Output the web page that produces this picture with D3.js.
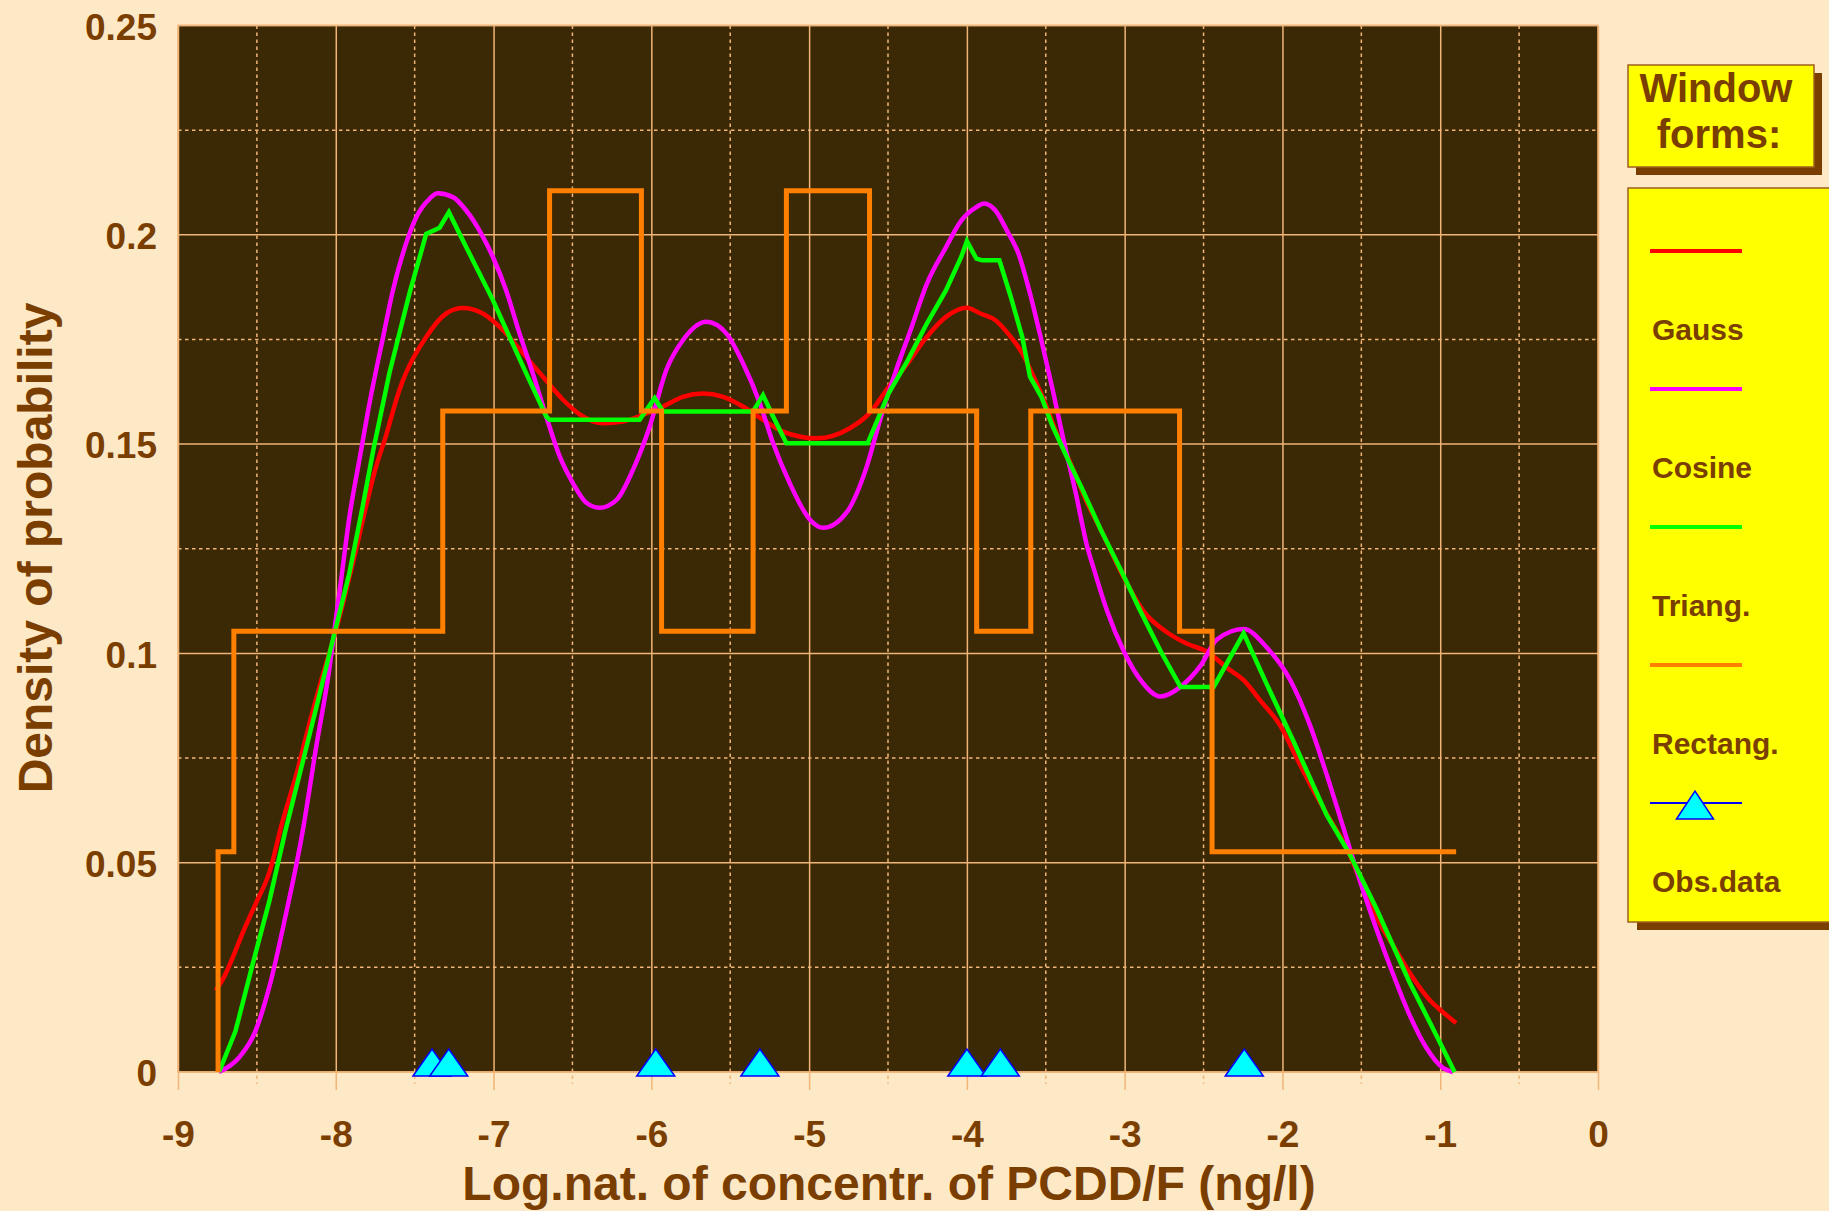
<!DOCTYPE html>
<html>
<head>
<meta charset="utf-8">
<script src="https://cdn.jsdelivr.net/npm/d3@7"></script>
<style>
  body { margin: 0; background: #fee9c7; }
  svg { display: block; }
  text { font-family: "Liberation Sans", Arial, sans-serif; fill: #7a3e00; }
</style>
</head>
<body>
<svg id="plot"></svg>
<script>
// observations (log conc.)
const obsX = [-7.39, -7.284, -5.972, -5.312, -4.0, -3.788, -2.242];

// kernel density curves: [x, density]
const gaussPts = [[-8.76,0.0195],[-8.72,0.0219],[-8.57,0.035],[-8.51,0.040],[-8.42,0.0478],[-8.34,0.0595],[-8.25,0.0711],[-8.17,0.0828],[-8.085,0.0945],[-8.0,0.1053],[-7.915,0.118],[-7.87,0.125],[-7.83,0.1316],[-7.744,0.1447],[-7.69,0.151],[-7.596,0.163],[-7.427,0.1756],[-7.30,0.1812],[-7.195,0.1825],[-7.068,0.1812],[-6.94,0.1772],[-6.814,0.1717],[-6.687,0.1661],[-6.56,0.1606],[-6.433,0.1566],[-6.307,0.155],[-6.18,0.1554],[-6.053,0.157],[-5.926,0.159],[-5.80,0.1613],[-5.672,0.1621],[-5.545,0.1613],[-5.419,0.159],[-5.292,0.1558],[-5.165,0.153],[-4.953,0.1514],[-4.742,0.1538],[-4.617,0.1574],[-4.496,0.1637],[-4.375,0.1693],[-4.254,0.1756],[-4.133,0.1804],[-4.0,0.1826],[-3.915,0.1812],[-3.819,0.1796],[-3.722,0.1756],[-3.649,0.1717],[-3.577,0.1661],[-3.504,0.1598],[-3.431,0.1526],[-3.335,0.1447],[-3.238,0.136],[-3.152,0.1296],[-3.004,0.118],[-2.878,0.110],[-2.73,0.105],[-2.604,0.1023],[-2.478,0.1004],[-2.35,0.0965],[-2.246,0.0936],[-2.14,0.0887],[-2.015,0.0828],[-1.91,0.075],[-1.804,0.0673],[-1.70,0.0604],[-1.594,0.0536],[-1.488,0.044],[-1.383,0.0355],[-1.278,0.029],[-1.173,0.0225],[-1.067,0.0172],[-0.983,0.0143],[-0.899,0.0117]];

const cosinePts = [[-8.74,0],[-8.614,0.0034],[-8.51,0.0097],[-8.42,0.0205],[-8.32,0.037],[-8.21,0.0575],[-8.127,0.077],[-8.04,0.0965],[-8.0,0.108],[-7.958,0.12],[-7.913,0.1328],[-7.85,0.1463],[-7.786,0.1598],[-7.70,0.1756],[-7.638,0.1867],[-7.575,0.1955],[-7.49,0.2042],[-7.406,0.2086],[-7.353,0.2099],[-7.258,0.209],[-7.173,0.2058],[-7.089,0.201],[-7.004,0.1947],[-6.92,0.1867],[-6.835,0.1764],[-6.751,0.1669],[-6.666,0.1566],[-6.58,0.147],[-6.497,0.1407],[-6.412,0.136],[-6.328,0.1348],[-6.22,0.1367],[-6.116,0.1439],[-6.01,0.1542],[-5.905,0.1677],[-5.80,0.1748],[-5.651,0.1792],[-5.524,0.1764],[-5.419,0.1693],[-5.313,0.1598],[-5.228,0.1502],[-5.123,0.1407],[-4.996,0.132],[-4.91,0.130],[-4.76,0.1338],[-4.641,0.1439],[-4.544,0.1566],[-4.448,0.1677],[-4.35,0.178],[-4.254,0.1883],[-4.133,0.197],[-4.036,0.2034],[-3.94,0.2066],[-3.891,0.2075],[-3.819,0.2058],[-3.746,0.201],[-3.673,0.1955],[-3.60,0.186],[-3.528,0.1748],[-3.456,0.1629],[-3.383,0.1502],[-3.31,0.1383],[-3.238,0.1256],[-3.194,0.120],[-3.11,0.110],[-3.004,0.1004],[-2.899,0.0936],[-2.773,0.0897],[-2.646,0.092],[-2.52,0.097],[-2.415,0.1033],[-2.246,0.1058],[-2.099,0.1014],[-1.95,0.0936],[-1.825,0.0828],[-1.72,0.0711],[-1.615,0.0585],[-1.51,0.0458],[-1.404,0.0341],[-1.299,0.0234],[-1.194,0.0136],[-1.088,0.0058],[-0.983,0.001],[-0.92,0]];

const triangPts = [[-8.74,0],[-8.636,0.0097],[-8.53,0.0253],[-8.42,0.041],[-8.32,0.0575],[-8.21,0.074],[-8.106,0.0897],[-8.02,0.103],[-7.915,0.119],[-7.83,0.135],[-7.76,0.149],[-7.66,0.167],[-7.533,0.186],[-7.427,0.2002],[-7.342,0.2017],[-7.283,0.2054],[-7.195,0.1987],[-7.11,0.1923],[-7.004,0.1844],[-6.899,0.1756],[-6.793,0.1669],[-6.666,0.1566],[-6.645,0.1558],[-6.074,0.1558],[-5.979,0.161],[-5.926,0.1578],[-5.355,0.1578],[-5.292,0.1617],[-5.228,0.1566],[-5.144,0.1502],[-4.629,0.1502],[-4.496,0.1621],[-4.375,0.17],[-4.254,0.1788],[-4.133,0.1867],[-4.036,0.1947],[-4.0,0.1985],[-3.94,0.1943],[-3.903,0.1939],[-3.794,0.1939],[-3.722,0.1852],[-3.649,0.1756],[-3.60,0.1661],[-3.528,0.1613],[-3.456,0.1542],[-3.359,0.1463],[-3.278,0.140],[-3.152,0.1296],[-3.025,0.12],[-2.899,0.110],[-2.77,0.1004],[-2.646,0.092],[-2.436,0.092],[-2.246,0.1048],[-2.099,0.0926],[-1.93,0.079],[-1.72,0.0614],[-1.573,0.052],[-1.404,0.039],[-1.194,0.0214],[-1.025,0.0088],[-0.909,0]];

// rectangular window: step breakpoints
const rectX = [-8.746, -8.746, -8.646, -7.322, -6.645, -6.063, -5.935, -5.355, -5.144, -4.617, -3.938, -3.595, -2.652, -2.446, -0.899];
const rectY = [0, 0.0526, 0.1053, 0.1579, 0.2105, 0.1579, 0.1053, 0.1579, 0.2105, 0.1579, 0.1053, 0.1579, 0.1053, 0.0526, 0.0526];

// axis ticks
const xTicks = [-9, -8, -7, -6, -5, -4, -3, -2, -1, 0];
const xMinor = [-8.5, -7.5, -6.5, -5.5, -4.5, -3.5, -2.5, -1.5, -0.5];
const yTicks = [0, 0.05, 0.1, 0.15, 0.2, 0.25];
const yMinor = [0.025, 0.075, 0.125, 0.175, 0.225];

const legendLabels = ["Gauss", "Cosine", "Triang.", "Rectang.", "Obs.data"];
const legendColors = ["#ff0000", "#ff00ff", "#00ff00", "#ff8000"];

// init setting
const W = 1829, H = 1211;
const svg = d3.select("#plot").attr("width", W).attr("height", H);
svg.append("rect").attr("width", W).attr("height", H).attr("fill", "#fee9c7");

const pL = 178, pR = 1598, pT = 25.5, pB = 1072;
const x = d3.scaleLinear().domain([-9, 0]).range([pL, pR]);
const y = d3.scaleLinear().domain([0, 0.25]).range([pB, pT]);

const gridColor = "#f0b577";

// plot background
svg.append("rect")
    .attr("x", pL).attr("y", pT)
    .attr("width", pR - pL).attr("height", pB - pT)
    .attr("fill", "#3b2805");

// grid: minor dashed, major solid (x lines run a bit below the plot as ticks)
const grid = svg.append("g");
grid.selectAll(".xminor").data(xMinor).enter().append("line")
    .attr("x1", d => x(d)).attr("x2", d => x(d))
    .attr("y1", pT).attr("y2", pB + 12)
    .attr("stroke", gridColor).attr("stroke-width", 1.5)
    .attr("stroke-dasharray", "3.5,3.5");
grid.selectAll(".yminor").data(yMinor).enter().append("line")
    .attr("x1", pL).attr("x2", pR)
    .attr("y1", d => y(d)).attr("y2", d => y(d))
    .attr("stroke", gridColor).attr("stroke-width", 1.5)
    .attr("stroke-dasharray", "3.5,3.5");
grid.selectAll(".ymajor").data(yTicks).enter().append("line")
    .attr("x1", pL).attr("x2", pR)
    .attr("y1", d => y(d)).attr("y2", d => y(d))
    .attr("stroke", gridColor).attr("stroke-width", 1.5);

// x axis (major grid lines + labels)
const xAxis = d3.axisBottom(x)
    .tickValues(xTicks)
    .tickSize(-(pB - pT))
    .tickFormat(d => String(d));
const gx = svg.append("g")
    .attr("transform", `translate(0, ${pB + 18})`)
    .call(xAxis);
gx.select(".domain").remove();
gx.selectAll(".tick line")
    .attr("y2", -(pB - pT) - 18)
    .attr("stroke", gridColor).attr("stroke-width", 1.5);
gx.selectAll(".tick text")
    .attr("y", 57).attr("dy", 0)
    .style("font-size", "37px").style("font-weight", "bold")
    .attr("fill", "#7a3e00");

// y axis labels
const yAxis = d3.axisLeft(y)
    .tickValues(yTicks)
    .tickSize(0)
    .tickPadding(21)
    .tickFormat(d => String(+d.toFixed(2)));
const gy = svg.append("g")
    .attr("transform", `translate(${pL}, 0)`)
    .call(yAxis);
gy.select(".domain").remove();
gy.selectAll(".tick text")
    .attr("dy", "0.37em")
    .style("font-size", "37px").style("font-weight", "bold")
    .attr("fill", "#7a3e00");

// plot border
svg.append("rect")
    .attr("x", pL).attr("y", pT)
    .attr("width", pR - pL).attr("height", pB - pT)
    .attr("fill", "none").attr("stroke", gridColor).attr("stroke-width", 1.5);

// curves
const line = d3.line().x(d => x(d[0])).y(d => y(d[1]));
svg.append("path").datum(gaussPts)
    .attr("d", line.curve(d3.curveMonotoneX))
    .attr("fill", "none").attr("stroke", legendColors[0]).attr("stroke-width", 4.5);
svg.append("path").datum(cosinePts)
    .attr("d", line.curve(d3.curveMonotoneX))
    .attr("fill", "none").attr("stroke", legendColors[1]).attr("stroke-width", 4.5);
svg.append("path").datum(triangPts)
    .attr("d", line.curve(d3.curveLinear))
    .attr("fill", "none").attr("stroke", legendColors[2]).attr("stroke-width", 4.5);
svg.append("path").datum(rectX.map((v, i) => [v, rectY[i]]))
    .attr("d", line.curve(d3.curveStepAfter))
    .attr("fill", "none").attr("stroke", legendColors[3]).attr("stroke-width", 5);

// observed data markers
const tri = (cx, cy, w, h) => `M${cx - w / 2},${cy} L${cx},${cy - h} L${cx + w / 2},${cy} Z`;
svg.selectAll(".obs").data(obsX).enter().append("path")
    .attr("class", "obs")
    .attr("d", d => tri(x(d), y(0) + 4, 38, 27))
    .attr("fill", "#00ffff").attr("stroke", "#0000ff").attr("stroke-width", 1.5);

// axis titles
svg.append("text")
    .attr("x", 889).attr("y", 1200)
    .attr("text-anchor", "middle")
    .style("font-size", "48px").style("font-weight", "bold")
    .text("Log.nat. of concentr. of PCDD/F (ng/l)");
svg.append("text")
    .attr("transform", "translate(52, 548) rotate(-90)")
    .attr("text-anchor", "middle")
    .style("font-size", "48px").style("font-weight", "bold")
    .text("Density of probability");

// legend title box
const lg = svg.append("g");
lg.append("rect").attr("x", 1636).attr("y", 73).attr("width", 186).attr("height", 102).attr("fill", "#7a3e00");
lg.append("rect").attr("x", 1628).attr("y", 65).attr("width", 186).attr("height", 102)
    .attr("fill", "#ffff00").attr("stroke", "#a0601e").attr("stroke-width", 1.5);
lg.append("text").attr("x", 1716).attr("y", 102).attr("text-anchor", "middle")
    .style("font-size", "40px").style("font-weight", "bold").text("Window");
lg.append("text").attr("x", 1719).attr("y", 148).attr("text-anchor", "middle")
    .style("font-size", "40px").style("font-weight", "bold").text("forms:");

// legend box
lg.append("rect").attr("x", 1637).attr("y", 196).attr("width", 220).attr("height", 734).attr("fill", "#7a3e00");
lg.append("rect").attr("x", 1628).attr("y", 188).attr("width", 220).attr("height", 734)
    .attr("fill", "#ffff00").attr("stroke", "#a0601e").attr("stroke-width", 1.5);

legendLabels.forEach((lab, i) => {
    const ly = 251 + 138 * i;
    if (i < 4) {
        lg.append("line").attr("x1", 1650).attr("x2", 1742).attr("y1", ly).attr("y2", ly)
            .attr("stroke", legendColors[i]).attr("stroke-width", 4);
    } else {
        lg.append("line").attr("x1", 1650).attr("x2", 1742).attr("y1", ly).attr("y2", ly)
            .attr("stroke", "#0000ff").attr("stroke-width", 2);
        lg.append("path").attr("d", tri(1695, ly + 16, 37, 28))
            .attr("fill", "#00ffff").attr("stroke", "#0000ff").attr("stroke-width", 1.5);
    }
    lg.append("text").attr("x", 1652).attr("y", ly + 89)
        .style("font-size", "30px").style("font-weight", "bold").text(lab);
});
</script>
</body>
</html>
